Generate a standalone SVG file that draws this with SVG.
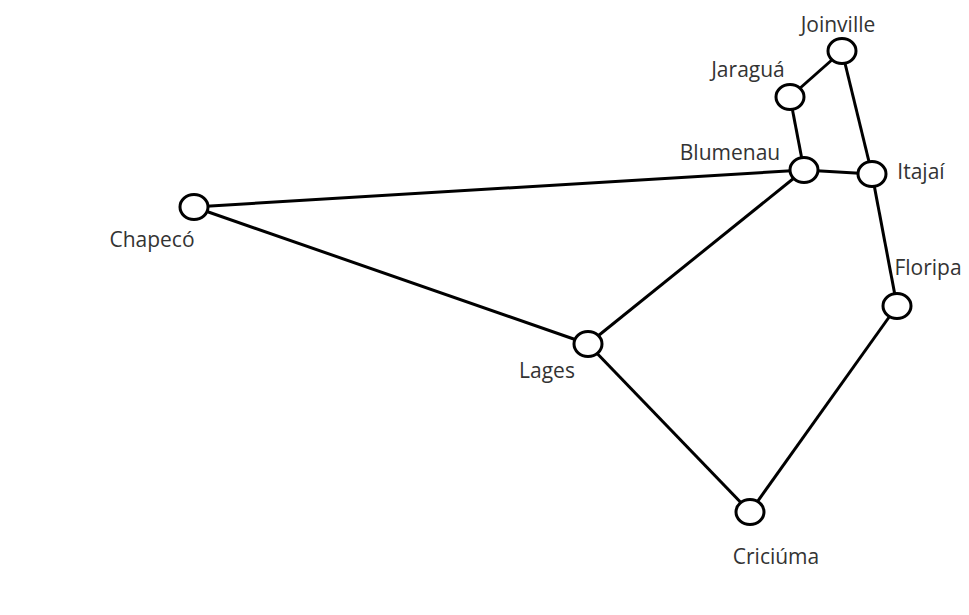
<svg xmlns="http://www.w3.org/2000/svg" width="969" height="615" viewBox="0 0 969 615">
<style>
.e{stroke:#000;stroke-width:3;fill:none}
.n{fill:#fff;stroke:#000;stroke-width:3}
.t{font-family:"Open Sans","Liberation Sans",sans-serif;font-size:21px;fill:#333;text-anchor:middle}
</style>
<rect width="969" height="615" fill="#fff"/>
<g id="edges">
<line class="e" x1="842" y1="51" x2="790" y2="97"/>
<line class="e" x1="842" y1="51" x2="872" y2="174"/>
<line class="e" x1="790" y1="97" x2="804" y2="170"/>
<line class="e" x1="804" y1="170" x2="872" y2="174"/>
<line class="e" x1="804" y1="170" x2="194" y2="207"/>
<line class="e" x1="804" y1="170" x2="588" y2="344"/>
<line class="e" x1="194" y1="207" x2="588" y2="344"/>
<line class="e" x1="588" y1="344" x2="750" y2="512"/>
<line class="e" x1="750" y1="512" x2="897" y2="306"/>
<line class="e" x1="872" y1="174" x2="897" y2="306"/>
</g>
<g id="joinville"><ellipse class="n" cx="842" cy="51" rx="14" ry="12.5"/><text class="t" x="838" y="32">Joinville</text></g>
<g id="jaragua"><ellipse class="n" cx="790" cy="97" rx="14" ry="12.5"/><text class="t" x="748" y="77">Jaraguá</text></g>
<g id="blumenau"><ellipse class="n" cx="804" cy="170" rx="14" ry="12.5"/><text class="t" x="730" y="160">Blumenau</text></g>
<g id="itajai"><ellipse class="n" cx="872" cy="174" rx="14" ry="12.5"/><text class="t" x="921" y="179">Itajaí</text></g>
<g id="chapeco"><ellipse class="n" cx="194" cy="207" rx="14" ry="12.5"/><text class="t" x="152" y="247">Chapecó</text></g>
<g id="lages"><ellipse class="n" cx="588" cy="344" rx="14" ry="12.5"/><text class="t" x="547" y="378">Lages</text></g>
<g id="floripa"><ellipse class="n" cx="897" cy="306" rx="14" ry="12.5"/><text class="t" x="928" y="275">Floripa</text></g>
<g id="criciuma"><ellipse class="n" cx="750" cy="512" rx="14" ry="12.5"/><text class="t" x="776" y="564">Criciúma</text></g>
</svg>
